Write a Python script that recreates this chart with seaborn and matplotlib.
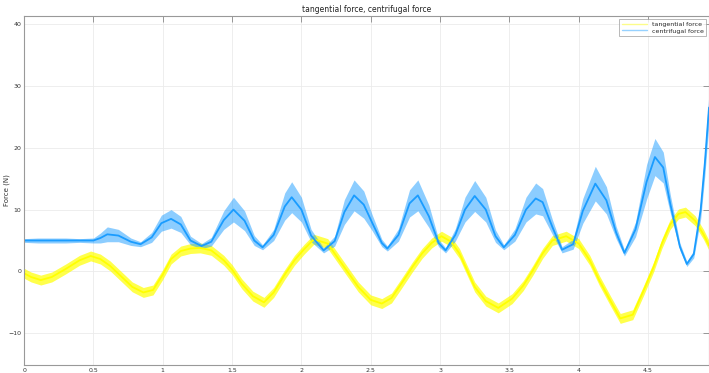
import numpy as np
import pandas as pd
import seaborn as sns
import matplotlib.pyplot as plt

# tangential force (yellow)
tan_t = [0, 0.05, 0.12, 0.2, 0.3, 0.4, 0.48, 0.55, 0.62, 0.7, 0.78, 0.86, 0.93, 1.0,
         1.06, 1.13, 1.2, 1.27, 1.35, 1.44, 1.5, 1.57, 1.65, 1.73, 1.8, 1.88, 1.95,
         2.02, 2.09, 2.19, 2.29, 2.41, 2.5, 2.58, 2.65, 2.72, 2.8, 2.87, 2.94, 3.01,
         3.08, 3.14, 3.25, 3.33, 3.42, 3.52, 3.6, 3.67, 3.74, 3.81, 3.91, 4.0, 4.08,
         4.15, 4.23, 4.3, 4.39, 4.47, 4.54, 4.6, 4.66, 4.72, 4.77, 4.84, 4.9, 4.94]
tan_f = [-0.3, -0.9, -1.4, -0.9, 0.4, 1.8, 2.5, 2.0, 0.9, -0.8, -2.5, -3.4, -3.0, -0.5,
         2.0, 3.3, 3.7, 3.8, 3.4, 1.8, 0.3, -2.0, -4.0, -5.0, -3.4, -0.5, 1.8,
         3.6, 5.2, 4.5, 1.3, -2.5, -4.6, -5.2, -4.3, -2.0, 0.7, 2.9, 4.6, 5.7,
         4.8, 2.9, -2.5, -4.8, -5.9, -4.4, -2.3, 0.2, 2.9, 5.0, 5.7, 4.5, 1.8,
         -1.5, -4.8, -7.6, -7.0, -3.0, 0.7, 4.5, 7.6, 9.3, 9.6, 8.2, 6.0, 4.2]
tan_noise = 0.8

# centrifugal force (blue)
cen_t = [0, 0.1, 0.2, 0.3, 0.4, 0.5, 0.55, 0.6, 0.68, 0.77, 0.84, 0.92, 0.99, 1.06,
         1.13, 1.2, 1.28, 1.35, 1.44, 1.51, 1.59, 1.66, 1.72, 1.80, 1.88, 1.93, 2.0,
         2.07, 2.16, 2.24, 2.31, 2.38, 2.45, 2.51, 2.58, 2.62, 2.70, 2.78, 2.84, 2.92,
         2.99, 3.04, 3.11, 3.18, 3.25, 3.33, 3.40, 3.46, 3.54, 3.62, 3.69, 3.74, 3.81,
         3.88, 3.96, 4.03, 4.12, 4.20, 4.27, 4.33, 4.41, 4.49, 4.55, 4.61, 4.66, 4.73,
         4.78, 4.83, 4.88, 4.91, 4.94]
cen_f = [5.0, 5.0, 5.0, 5.0, 5.0, 5.0, 5.4, 6.0, 5.8, 4.8, 4.4, 5.5, 7.8, 8.5,
         7.6, 5.0, 4.1, 4.8, 8.3, 10.0, 8.2, 5.0, 3.9, 5.9, 10.5, 12.0, 10.0,
         5.8, 3.4, 4.9, 9.6, 12.3, 10.8, 7.9, 4.6, 3.7, 5.9, 11.0, 12.3, 8.9,
         4.6, 3.4, 5.9, 10.0, 12.2, 10.0, 5.7, 3.9, 5.9, 10.0, 11.8, 11.2, 7.2,
         3.5, 4.4, 9.8, 14.2, 11.5, 6.3, 3.0, 6.8, 14.5, 18.5, 16.8, 11.0, 4.0,
         1.2, 2.8, 10.0, 17.5, 26.5]
cen_noise = [0.3, 0.4, 0.4, 0.4, 0.3, 0.4, 0.8, 1.2, 1.0, 0.6, 0.4, 0.8, 1.3, 1.5,
             1.3, 0.7, 0.4, 0.7, 1.5, 2.0, 1.6, 0.8, 0.4, 0.9, 2.2, 2.5, 2.0,
             1.0, 0.4, 0.8, 2.0, 2.5, 2.2, 1.3, 0.6, 0.4, 1.0, 2.2, 2.5, 1.8,
             0.6, 0.4, 1.0, 2.0, 2.5, 2.0, 1.0, 0.4, 1.0, 2.0, 2.5, 2.2, 1.2,
             0.5, 0.8, 2.0, 2.8, 2.2, 1.0, 0.5, 1.2, 2.8, 3.0, 2.5, 1.5, 0.6,
             0.4, 0.6, 1.5, 2.0, 2.5]

x_ticks = [0, 0.5, 1, 1.5, 2, 2.5, 3, 3.5, 4, 4.5]
x_labels = ['0', '0.5', '1', '1.5', '2', '2.5', '3', '3.5', '4', '4.5']
y_ticks = [-10, 0, 10, 20, 30, 40]

tan = pd.DataFrame({'t': tan_t, 'f': tan_f})
cen = pd.DataFrame({'t': cen_t, 'f': cen_f, 'n': cen_noise})

sns.set_style('whitegrid')
plt.rcParams['font.family'] = ['DejaVu Sans']

YEL = '#ffff00'
BLU = '#1a9cff'

fig = plt.figure(figsize=(7.09, 3.73), dpi=100)
ax = fig.add_axes([0.034, 0.022, 0.966, 0.935])

ax.fill_between(tan.t, tan.f - tan_noise, tan.f + tan_noise, color=YEL, alpha=0.7, lw=0)
sns.lineplot(data=tan, x='t', y='f', ax=ax, color=YEL, lw=1.3, label='tangential force')
ax.fill_between(cen.t, cen.f - cen.n, cen.f + cen.n, color=BLU, alpha=0.5, lw=0)
sns.lineplot(data=cen, x='t', y='f', ax=ax, color=BLU, lw=1.3, label='centrifugal force')

ax.set_xlim(0, 4.94)
ax.set_ylim(-15.1, 41.3)
ax.set_xticks(x_ticks)
ax.set_xticklabels(x_labels)
ax.set_yticks(y_ticks)
ax.set_xlabel('')
ax.set_ylabel('Force (N)', fontsize=5, color='#333333')
ax.yaxis.set_label_coords(-0.02, 0.5)
ax.set_title('tangential force, centrifugal force', fontsize=5.5, color='#222222', pad=3)

ax.grid(True, color='#ebebeb', lw=0.6)
ax.tick_params(direction='in', length=4, width=0.6, colors='#888888',
               labelsize=4.5, labelcolor='#333333', top=True, right=True, pad=2)
for s in ax.spines.values():
    s.set_color('#999999')
    s.set_linewidth(0.8)

leg = ax.legend(loc='upper right', fontsize=4.5, frameon=True, fancybox=False,
                borderpad=0.4, handlelength=4, labelspacing=0.2)
leg.get_frame().set_edgecolor('#999999')
leg.get_frame().set_linewidth(0.6)
for ln in leg.get_lines():
    ln.set_alpha(0.45)
    ln.set_linewidth(1.0)

fig.savefig('out.png', dpi=100)
